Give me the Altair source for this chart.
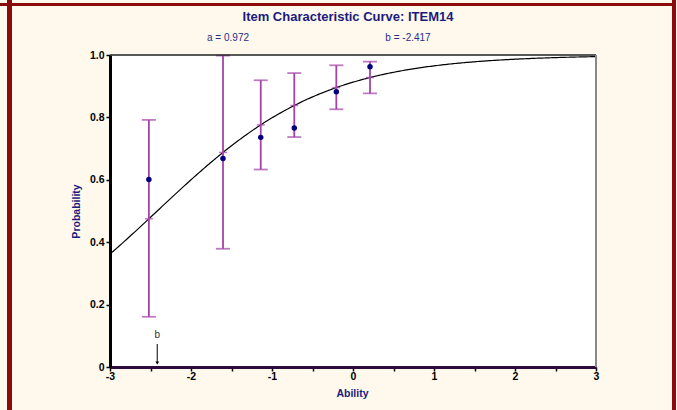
import altair as alt
import pandas as pd

# Item parameters (2PL model, no scaling constant)
A_PARAM = 0.972
B_PARAM = -2.417
ITEM = "ITEM14"

# Observed proportions by ability group, with error-bar limits
ability = [-2.52, -1.605, -1.139, -0.725, -0.206, 0.210]
observed = [0.601, 0.668, 0.736, 0.766, 0.882, 0.962]
lower = [0.161, 0.379, 0.633, 0.737, 0.826, 0.877]
upper = [0.792, 0.998, 0.919, 0.942, 0.967, 0.979]

x_tick_values = [-3, -2.5, -2, -1.5, -1, -0.5, 0, 0.5, 1, 1.5, 2, 2.5, 3]
y_tick_values = [0, 0.1, 0.2, 0.3, 0.4, 0.5, 0.6, 0.7, 0.8, 0.9, 1.0]

W, H = 486, 312
FONT = "Liberation Sans"
NAVY = "#1B1B7E"
PURPLE = "#A343A8"
FRAME = "#8B0A0A"
CREAM = "#FEF9EC"

groups = pd.DataFrame({"ability": ability, "observed": observed,
                       "lower": lower, "upper": upper})

x_scale = alt.Scale(domain=[-3, 3], nice=False, zero=False)
y_scale = alt.Scale(domain=[0, 1], nice=False)

x_axis = alt.Axis(
    values=x_tick_values,
    labelExpr="datum.value % 1 == 0 ? '' + datum.value : ''",
    labelFlush=False,
    title="Ability", titleX=W / 2 - 1, titleY=26, titleBaseline="middle",
    titleColor=NAVY, titleFont=FONT, titleFontSize=10.5, titleFontWeight="bold",
    domainColor="#2D0B3D", domainWidth=3,
    tickColor="black", tickSize=4, tickWidth=1.5,
    labelFont=FONT, labelFontSize=10.5, labelFontWeight="bold", labelColor="black",
    labelPadding=0, grid=False,
)
y_axis = alt.Axis(
    values=y_tick_values,
    labelExpr="datum.value == 0 ? '0' : (round(datum.value * 10) % 2 == 0 ? format(datum.value, '.1f') : '')",
    labelFlush=False,
    title="Probability", titleX=-34, titleY=H / 2, titleAngle=270,
    titleAlign="center", titleBaseline="middle",
    titleColor=NAVY, titleFont=FONT, titleFontSize=10.5, titleFontWeight="bold",
    domainColor="black", domainWidth=3,
    tickColor="black", tickSize=4, tickWidth=1.5,
    labelFont=FONT, labelFontSize=10.5, labelFontWeight="bold", labelColor="black",
    labelPadding=2, grid=False,
)

# Model curve P(theta) = 1 / (1 + exp(-a (theta - b)))
curve = (
    alt.Chart(alt.sequence(-3, 3.0001, 0.02, as_="theta"))
    .transform_calculate(p=f"1 / (1 + exp(-{A_PARAM} * (datum.theta - ({B_PARAM}))))")
    .mark_line(color="black", strokeWidth=1.2)
    .encode(x=alt.X("theta:Q", scale=x_scale, axis=x_axis),
            y=alt.Y("p:Q", scale=y_scale, axis=y_axis))
)

base = alt.Chart(groups)

bars = base.mark_rule(color=PURPLE, strokeWidth=1.8).encode(
    x=alt.X("ability:Q", scale=x_scale), y=alt.Y("lower:Q", scale=y_scale), y2="upper:Q")
caps_hi = base.mark_tick(color=PURPLE, size=14, thickness=1.8, orient="horizontal").encode(
    x=alt.X("ability:Q", scale=x_scale), y=alt.Y("upper:Q", scale=y_scale))
caps_lo = base.mark_tick(color=PURPLE, size=14, thickness=1.8, orient="horizontal").encode(
    x=alt.X("ability:Q", scale=x_scale), y=alt.Y("lower:Q", scale=y_scale))

# Model value marked on the curve at each group's ability
model_marks = (
    base.transform_calculate(model=f"1 / (1 + exp(-{A_PARAM} * (datum.ability - ({B_PARAM}))))")
    .mark_tick(color=PURPLE, size=8, thickness=1.5, orient="horizontal")
    .encode(x=alt.X("ability:Q", scale=x_scale), y=alt.Y("model:Q", scale=y_scale))
)

dots = base.mark_circle(color="#000080", size=30, opacity=1).encode(
    x=alt.X("ability:Q", scale=x_scale), y=alt.Y("observed:Q", scale=y_scale))

# Difficulty marker on the ability axis
b_df = pd.DataFrame({"b": [B_PARAM], "label": ["b"]})
b_text = alt.Chart(b_df).mark_text(font=FONT, fontSize=10, color="#333333").encode(
    x=alt.X("b:Q", scale=x_scale), y=alt.value(280), text="label:N")
b_stem = alt.Chart(b_df).mark_rule(color="black", strokeWidth=1).encode(
    x=alt.X("b:Q", scale=x_scale), y=alt.value(289), y2=alt.value(308))
b_head = alt.Chart(b_df).mark_point(shape="triangle-down", filled=True, color="black",
                                    size=14, opacity=1).encode(
    x=alt.X("b:Q", scale=x_scale), y=alt.value(308))

# Plot frame: dark top edge, grey right edge
frame_df = pd.DataFrame({"k": [0]})
top_edge = alt.Chart(frame_df).mark_rule(color="#222222", strokeWidth=1.5).encode(
    x=alt.value(0), x2=alt.value(W), y=alt.value(0))
right_edge = alt.Chart(frame_df).mark_rule(color="#8A8A8A", strokeWidth=2).encode(
    x=alt.value(W), y=alt.value(0), y2=alt.value(H))

# Dark red page border
border_left = alt.Chart(frame_df).mark_rule(color=FRAME, strokeWidth=5).encode(
    x=alt.value(-100.5), y=alt.value(-55), y2=alt.value(H + 43))
border_right = alt.Chart(frame_df).mark_rule(color=FRAME, strokeWidth=4).encode(
    x=alt.value(564), y=alt.value(-55), y2=alt.value(H + 43))
border_top = alt.Chart(frame_df).mark_rule(color=FRAME, strokeWidth=3).encode(
    x=alt.value(-110), x2=alt.value(566), y=alt.value(-50.5))

# Heading and parameter labels
heads = pd.DataFrame({
    "txt": [f"Item Characteristic Curve: {ITEM}"],
})
title_text = alt.Chart(heads).mark_text(
    font=FONT, fontSize=13, fontWeight="bold", color=NAVY).encode(
    x=alt.value(238), y=alt.value(-38), text="txt:N")
params = pd.DataFrame({"txt": [f"a = {A_PARAM}", f"b = {B_PARAM}"], "px": [118, 298]})
param_text = alt.Chart(params).mark_text(font=FONT, fontSize=10, color="#2A2A8A").encode(
    x=alt.X("px:Q", scale=None), y=alt.value(-17), text="txt:N")

chart = (
    alt.layer(curve, bars, caps_hi, caps_lo, model_marks, dots,
              b_text, b_stem, b_head, top_edge, right_edge,
              border_left, border_right, border_top, title_text, param_text)
    .properties(width=W, height=H,
                autosize=alt.AutoSizeParams(type="none"),
                padding={"left": 110, "top": 55, "right": 81, "bottom": 43})
    .configure(background=CREAM)
    .configure_view(fill="white", stroke=None)
)

chart.save("out.html", embed_options={"renderer": "svg", "actions": False})
